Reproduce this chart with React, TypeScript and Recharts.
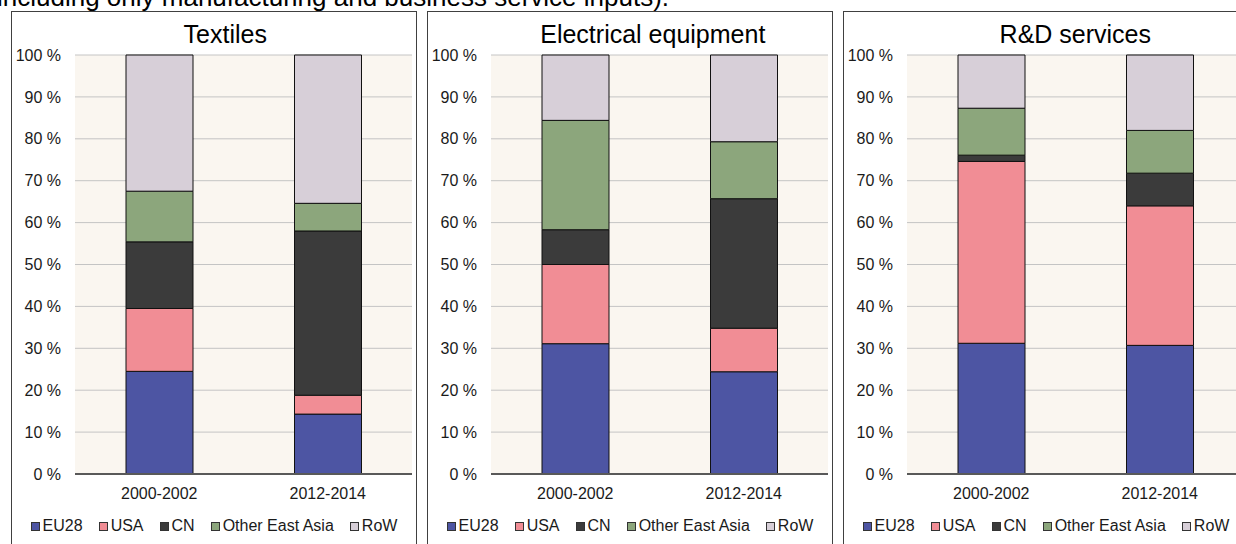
import React from "react";
import { BarChart, Bar, XAxis, YAxis, CartesianGrid } from "recharts";

const categories = ["2000-2002", "2012-2014"];
const seriesNames = ["EU28", "USA", "CN", "Other East Asia", "RoW"];
const seriesColors = ["#4D55A3", "#F18D95", "#3B3B3B", "#8CA67C", "#D7CFD8"];
const yTicks = [0, 10, 20, 30, 40, 50, 60, 70, 80, 90, 100];

const textilesEU28 = [24.5, 14.3];
const textilesUSA = [15.0, 4.5];
const textilesCN = [15.9, 39.2];
const textilesOEA = [12.1, 6.6];
const textilesRoW = [32.5, 35.4];

const electricalEU28 = [31.1, 24.4];
const electricalUSA = [18.9, 10.4];
const electricalCN = [8.3, 30.9];
const electricalOEA = [26.1, 13.6];
const electricalRoW = [15.6, 20.7];

const rdEU28 = [31.2, 30.7];
const rdUSA = [43.4, 33.3];
const rdCN = [1.5, 7.8];
const rdOEA = [11.2, 10.2];
const rdRoW = [12.7, 18.0];

const panelTitles = ["Textiles", "Electrical equipment", "R&D services"];
const titleCenters = [225.3, 652.8, 1075.3];

const buildData = (series: number[][]) =>
  categories.map((c, i) => {
    const row: Record<string, string | number> = { category: c };
    seriesNames.forEach((s, k) => {
      row[s] = series[k][i];
    });
    return row;
  });

const panelData = [
  buildData([textilesEU28, textilesUSA, textilesCN, textilesOEA, textilesRoW]),
  buildData([electricalEU28, electricalUSA, electricalCN, electricalOEA, electricalRoW]),
  buildData([rdEU28, rdUSA, rdCN, rdOEA, rdRoW]),
];

const FONT = "'Liberation Sans', Arial, sans-serif";

const Panel = ({ index }: { index: number }) => {
  const left = 11 + 416 * index;
  return (
    <div
      style={{
        position: "absolute",
        left,
        top: 11,
        width: 406,
        height: 560,
        border: "1px solid #404040",
        boxSizing: "border-box",
        background: "#FFFFFF",
      }}
    >
      <div
        style={{
          position: "absolute",
          left: titleCenters[index] - 12 - 416 * index - 150,
          top: 10,
          width: 300,
          textAlign: "center",
          fontSize: 25,
          lineHeight: "25px",
          fontFamily: FONT,
          color: "#000",
          whiteSpace: "nowrap",
        }}
      >
        {panelTitles[index]}
      </div>
      <div style={{ position: "absolute", left: 0, top: 0 }}>
        <BarChart
          width={404}
          height={540}
          data={panelData[index]}
          margin={{ top: 43, right: 4, left: 0, bottom: 48 }}
          barSize={67}
        >
          <CartesianGrid vertical={false} stroke="#C4C4C4" fill="#FAF6F0" />
          <YAxis
            type="number"
            domain={[0, 100]}
            ticks={yTicks}
            interval={0}
            width={63}
            axisLine={false}
            tickLine={false}
            tickSize={0}
            tickMargin={14}
            tickFormatter={(v: number) => `${v} %`}
            tick={{ fontSize: 16, fontFamily: FONT, fill: "#1a1a1a" }}
          />
          <XAxis
            dataKey="category"
            height={30}
            axisLine={{ stroke: "#595959", strokeWidth: 2 }}
            tickLine={false}
            tickSize={0}
            tickMargin={14}
            tick={{ fontSize: 16, fontFamily: FONT, fill: "#1a1a1a" }}
          />
          {seriesNames.map((s, k) => (
            <Bar
              key={s}
              dataKey={s}
              stackId="a"
              fill={seriesColors[k]}
              stroke="#111111"
              strokeWidth={1}
              isAnimationActive={false}
            />
          ))}
        </BarChart>
      </div>
      <div
        style={{
          position: "absolute",
          left: 0,
          top: 506,
          width: 404,
          display: "flex",
          justifyContent: "center",
          gap: 16,
          fontSize: 16,
          lineHeight: "16px",
          fontFamily: FONT,
          color: "#1a1a1a",
          whiteSpace: "nowrap",
        }}
      >
        {seriesNames.map((s, k) => (
          <div key={s} style={{ display: "flex", alignItems: "center" }}>
            <span
              style={{
                display: "inline-block",
                width: 9,
                height: 9,
                boxSizing: "border-box",
                border: "1px solid #333",
                background: seriesColors[k],
                marginRight: 3,
              }}
            />
            <span>{s}</span>
          </div>
        ))}
      </div>
    </div>
  );
};

export default function App() {
  return (
    <div
      style={{
        position: "absolute",
        left: 0,
        top: 0,
        width: 1236,
        height: 544,
        overflow: "hidden",
        background: "#FFFFFF",
      }}
    >
      <div
        style={{
          position: "absolute",
          left: -3,
          top: -16,
          fontSize: 26,
          lineHeight: "26px",
          fontFamily: FONT,
          color: "#000",
          whiteSpace: "nowrap",
        }}
      >
        including only manufacturing and business service inputs).
      </div>
      {[0, 1, 2].map((i) => (
        <Panel key={i} index={i} />
      ))}
    </div>
  );
}
